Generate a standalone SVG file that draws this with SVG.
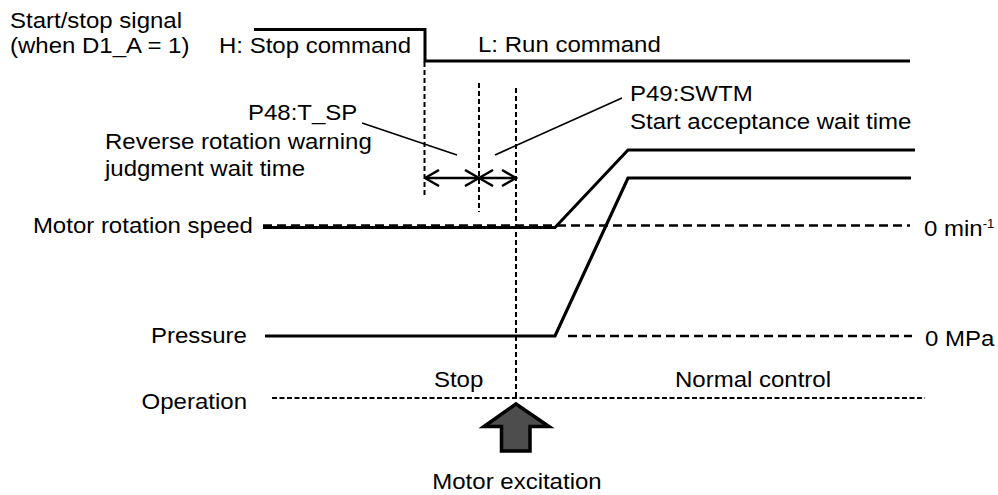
<svg xmlns="http://www.w3.org/2000/svg" width="998" height="495" viewBox="0 0 998 495">
<style>
text{font-family:"Liberation Sans",Arial,sans-serif;font-size:22px;fill:#000}
.thick{fill:none;stroke:#000;stroke-width:3;stroke-linejoin:miter}
.dash{fill:none;stroke:#000;stroke-width:2.7;stroke-dasharray:9 5}
.vd{fill:none;stroke:#000;stroke-width:2;stroke-dasharray:5 3}
.od{fill:none;stroke:#000;stroke-width:1.8;stroke-dasharray:5 2.5}
.thin{fill:none;stroke:#000;stroke-width:1.7}
.dim{fill:none;stroke:#000;stroke-width:2.5}
</style>
<defs>
<marker id="v" viewBox="0 0 17 18" refX="15.5" refY="9" markerWidth="17" markerHeight="18" markerUnits="userSpaceOnUse" orient="auto-start-reverse">
<path d="M1.5,1 L15.5,9 L1.5,17" fill="none" stroke="#000" stroke-width="2.5"/>
</marker>
</defs>
<rect width="998" height="495" fill="#fff"/>
<g id="connectors">
<polyline id="signal" class="thick" points="254,29.5 425,29.5 425,61 910,61"/>
<line class="vd" x1="424.5" y1="62" x2="424.5" y2="197"/>
<line class="vd" x1="479" y1="83" x2="479" y2="212"/>
<line class="vd" x1="516" y1="88" x2="516" y2="398"/>
<line class="dim" x1="425" y1="178" x2="479" y2="178" marker-start="url(#v)" marker-end="url(#v)"/>
<line class="dim" x1="479" y1="178" x2="516" y2="178" marker-start="url(#v)" marker-end="url(#v)"/>
<line class="thin" x1="362" y1="123" x2="457" y2="155"/>
<line class="thin" x1="495" y1="155" x2="622" y2="98"/>
<line class="dash" x1="263" y1="225.5" x2="910" y2="225.5"/>
<line class="thick" x1="263" y1="227.5" x2="556" y2="227.5"/>
<polyline class="thick" points="555,227.5 628,150 915,150"/>
<polyline class="thick" points="265,336 555,336 628,178 911,178" style="stroke-width:3.2"/>
<line class="dash" x1="568" y1="336" x2="912" y2="336"/>
<line class="od" x1="272" y1="398" x2="925" y2="398"/>
</g>
<g id="excitation-arrow">
<polygon points="516,404 549,426.5 530,426.5 530,451 501.5,451 501.5,426.5 484,426.5" fill="#4d4d4d" stroke="#000" stroke-width="3.5" stroke-linejoin="miter"/>
</g>
<g id="labels" transform="scale(1.0909 1)">
<g id="signal-label">
<text x="9.17" y="28">Start/stop signal</text>
<text x="9.17" y="53">(when D1_A = 1)</text>
</g>
<text id="stop-cmd" x="200.75" y="53">H: Stop command</text>
<text id="run-cmd" x="438.2" y="52">L: Run command</text>
<g id="p48">
<text x="227.3" y="120">P48:T_SP</text>
<text x="96.25" y="149">Reverse rotation warning</text>
<text x="96.25" y="176">judgment wait time</text>
</g>
<g id="p49">
<text x="577.5" y="101">P49:SWTM</text>
<text x="577.5" y="129">Start acceptance wait time</text>
</g>
<text id="speed-label" x="231.9" y="233" text-anchor="end">Motor rotation speed</text>
<text id="speed-zero" x="847" y="236">0 min<tspan font-size="12" dy="-8">-1</tspan></text>
<text id="pressure-label" x="226.4" y="343" text-anchor="end">Pressure</text>
<text id="pressure-zero" x="847.9" y="346">0 MPa</text>
<text id="stop-label" x="397.8" y="387">Stop</text>
<text id="normal-label" x="618.75" y="387">Normal control</text>
<text id="operation-label" x="226.4" y="409.5" text-anchor="end">Operation</text>
<text id="excitation-label" x="473.9" y="489" text-anchor="middle">Motor excitation</text>
</g>
</svg>
